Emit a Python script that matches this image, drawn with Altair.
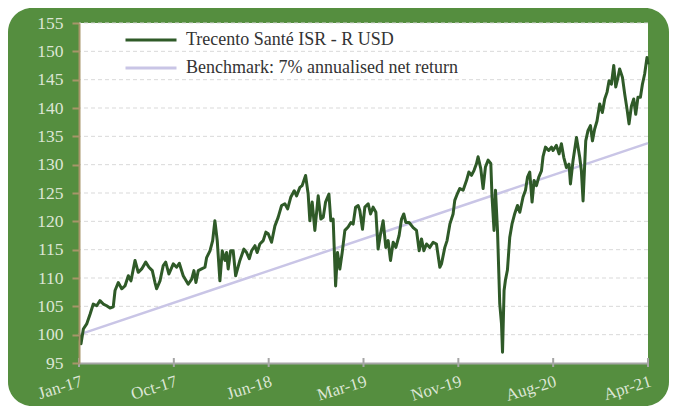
import json
import altair as alt
import pandas as pd

# ---- data (months since Jan-17, index value) ----
months = [0, 0.18, 0.39, 0.69, 0.99, 1.28, 1.59, 1.88, 2.18, 2.48, 2.78, 3.07, 3.23, 3.52, 3.83,
          4.12, 4.42, 4.66, 5.02, 5.31, 5.62, 5.98, 6.27, 6.57, 6.81, 6.96, 7.26, 7.55, 7.77, 8.06,
          8.45, 8.75, 8.99, 9.34, 9.79, 10.10, 10.30, 10.48, 10.69, 10.99, 11.29, 11.44, 11.74, 11.98,
          12.18, 12.39, 12.63, 12.84, 13.08, 13.23, 13.37, 13.59, 13.82, 14.04, 14.42, 14.78, 15.02,
          15.26, 15.47, 15.77, 15.97, 16.21, 16.51, 16.75,
          16.96, 17.26, 17.56, 17.85, 18.16, 18.45, 18.70, 18.99, 19.29, 19.50, 19.80, 20.00, 20.31,
          20.54, 20.69, 20.90, 21.14, 21.44, 21.68, 21.89, 22.10, 22.40, 22.57, 22.78, 23.00, 23.17,
          23.38, 23.59, 23.83, 24.12, 24.37, 24.57, 24.79, 25.02,
          25.17, 25.41, 25.62, 25.92, 26.13, 26.36, 26.61, 26.81, 27.03, 27.26, 27.50, 27.71, 27.92,
          28.16, 28.40, 28.69, 28.91, 29.11, 29.29, 29.59, 29.95, 30.25, 30.49, 30.70, 30.91, 31.15,
          31.44, 31.74, 32.04, 32.34, 32.49, 32.79, 32.99, 33.24, 33.53,
          33.68, 33.92, 34.13, 34.43, 34.73, 34.94, 35.18, 35.41, 35.63, 35.77, 36.01, 36.22, 36.43,
          36.67, 36.91, 37.02, 37.20, 37.33, 37.51, 37.63, 37.71, 37.87, 37.96, 38.10, 38.22, 38.40,
          38.61, 38.82, 39.06, 39.30, 39.51, 39.80, 40.02, 40.20, 40.40, 40.61, 40.79, 41.00, 41.21,
          41.45, 41.59, 41.81, 42.10,
          42.35, 42.49, 42.79, 43.03, 43.24, 43.45, 43.69, 43.92, 44.05, 44.28, 44.59, 44.88, 45.03,
          45.18, 45.42, 45.62, 45.84, 46.02, 46.22, 46.43, 46.67, 46.91, 47.12, 47.33, 47.51, 47.72,
          47.93, 48.11, 48.31, 48.46, 48.71, 48.91, 49.12, 49.30, 49.51, 49.72, 49.90, 50.10, 50.32,
          50.50, 50.70, 50.91, 51.00]
values = [100, 98.4, 101.0, 101.9, 103.6, 105.4, 105.1, 106.0, 105.4, 105.1, 104.7, 104.9, 107.8,
          109.2, 108.1, 108.6, 110.4, 109.5, 113.1, 111.0, 111.6, 112.8, 111.9, 111.3, 109.2, 108.1,
          109.5, 112.2, 112.8, 110.7,
          112.5, 111.9, 112.6, 110.4, 108.9, 109.8, 111.3, 109.2, 111.3, 111.6, 111.9, 113.6, 114.8,
          116.6, 120.1, 116.6, 109.5, 114.8, 113.1, 114.5, 111.6, 114.8, 114.8, 110.4, 113.1, 115.1,
          114.5, 113.4, 114.8, 115.7, 114.5, 116.0, 116.6, 118.1,
          117.8, 116.3, 119.2, 120.7, 122.8, 123.1, 122.2, 124.3, 125.4, 124.5, 126.0, 126.3, 128.1,
          124.8, 120.1, 123.4, 118.4, 124.5, 120.4, 120.7, 123.4, 124.8, 120.1, 120.4, 108.6, 114.5,
          111.6, 114.5, 118.4, 119.0, 119.8, 119.5, 122.5, 122.8,
          121.9, 118.6, 122.5, 123.1, 121.3, 122.5, 121.6, 115.1, 117.8, 120.1, 115.4, 116.6, 113.1,
          116.3, 115.4, 117.5, 120.4, 121.3, 119.8, 119.8, 118.9, 118.4, 114.8, 116.9, 114.8, 116.0,
          115.4, 116.3, 116.0, 111.9, 112.5, 115.4, 116.6, 119.5, 121.3,
          123.7, 124.9, 125.8, 125.5, 127.2, 128.7, 128.1, 129.0, 130.2, 131.4, 129.3, 125.8, 129.6,
          130.8, 130.2, 124.3, 118.4, 125.5, 118.4, 110.8, 105.5, 101.9, 96.9, 107.8, 109.6, 111.4,
          117.2, 119.6, 121.4, 122.8, 121.6, 124.3, 125.5, 127.8, 128.7, 123.4, 127.2, 126.3, 127.8,
          128.9, 131.4, 133.1, 132.5,
          133.1, 132.5, 133.4, 131.9, 133.7, 131.3, 129.5, 130.1, 126.6, 130.7, 134.8, 131.3, 128.9,
          123.6, 134.2, 136.0, 136.9, 134.2, 136.3, 137.7, 140.7, 139.2, 141.6, 142.8, 144.8, 144.2,
          147.5, 143.7, 145.4, 146.9, 145.4, 142.5, 139.8, 137.2, 140.3, 141.6, 138.9, 141.9, 141.9,
          144.2, 146.0, 148.9, 147.7]
bench_months = [0, 51]
bench_values = [100, 133.8]
tick_months = [0, 8.5, 17, 25.5, 34, 42.5, 51]
tick_labels = ["Jan-17", "Oct-17", "Jun-18", "Mar-19", "Nov-19", "Aug-20", "Apr-21"]
y_ticks = [95, 100, 105, 110, 115, 120, 125, 130, 135, 140, 145, 150, 155]

SERIES = "Trecento Santé ISR - R USD"
BENCH = "Benchmark: 7% annualised net return"

# ---- style ----
W, H = 569, 340
PAD = {"left": 71, "top": 15, "right": 21, "bottom": 43}
GREEN = "#558E3F"
DARK = "#2F5A28"
LAV = "#C9C5E6"
FONT = "Palatino Linotype, Book Antiqua, Liberation Serif, serif"
LABEL_LIGHT = "#DDE6D6"

df = pd.DataFrame({"m": months, "v": values, "s": SERIES})
bf = pd.DataFrame({"m": bench_months, "v": bench_values, "s": BENCH})
grid_df = pd.DataFrame({"v": y_ticks[1:]})
tick_df = pd.DataFrame({"m": tick_months})
one = pd.DataFrame({"a": [0]})

label_expr = f"{json.dumps(tick_labels)}[indexof({json.dumps(tick_months)}, datum.value)]"

xscale = alt.Scale(domain=[0, 51], nice=False, zero=False)
yscale = alt.Scale(domain=[95, 155], nice=False, zero=False)

xaxis = alt.Axis(values=tick_months, labelExpr=label_expr, title=None, grid=False, ticks=False,
                 domainColor="#A6A6A6", domainWidth=2, labelAngle=-17, labelAlign="right",
                 labelBaseline="top", labelFont=FONT, labelFontSize=17, labelColor=LABEL_LIGHT,
                 labelPadding=10, labelOverlap=False, zindex=1)
yaxis = alt.Axis(values=y_ticks, title=None, grid=False, domainColor="#A8956A", domainWidth=2,
                 tickColor="#A8956A", tickWidth=2, tickSize=7, labelFont=FONT, labelFontSize=17.5,
                 labelColor=LABEL_LIGHT, labelPadding=9, zindex=1)

X = alt.X("m:Q", scale=xscale, axis=xaxis)
Y = alt.Y("v:Q", scale=yscale, axis=yaxis)

color = alt.Color(
    "s:N",
    scale=alt.Scale(domain=[SERIES, BENCH], range=[DARK, LAV]),
    legend=alt.Legend(orient="none", legendX=45, legendY=7, title=None, symbolType="stroke",
                      symbolSize=2601, symbolStrokeWidth=3, clipHeight=20, rowPadding=8,
                      labelOffset=8, labelFont=FONT, labelFontSize=18, labelColor="#333333",
                      labelLimit=500, padding=0),
)

bg = alt.Chart(one).mark_rect(color=GREEN, cornerRadius=24).encode(
    x=alt.value(-PAD["left"]), x2=alt.value(W + PAD["right"]),
    y=alt.value(-PAD["top"]), y2=alt.value(H + PAD["bottom"]))
plot_bg = alt.Chart(one).mark_rect(color="white").encode(
    x=alt.value(0), x2=alt.value(W), y=alt.value(0), y2=alt.value(H))
grid = alt.Chart(grid_df).mark_rule(color="#D9D9D9", strokeDash=[4, 3], strokeWidth=1).encode(y=Y)
bench = alt.Chart(bf).mark_line(strokeWidth=2.5).encode(x=X, y=Y, color=color)
series = alt.Chart(df).mark_line(strokeWidth=3, strokeJoin="round").encode(x=X, y=Y, color=color)
xticks = alt.Chart(tick_df).mark_rule(color="#A6A6A6", strokeWidth=2).encode(
    x=X, y=alt.value(H - 5), y2=alt.value(H + 4))

chart = alt.layer(bg, plot_bg, grid, bench, series, xticks).properties(
    width=W, height=H, autosize=alt.AutoSizeParams(type="none"), padding=PAD
).configure(background="white").configure_view(stroke=None)

chart.save("out.html", embed_options={"renderer": "svg", "actions": False})
